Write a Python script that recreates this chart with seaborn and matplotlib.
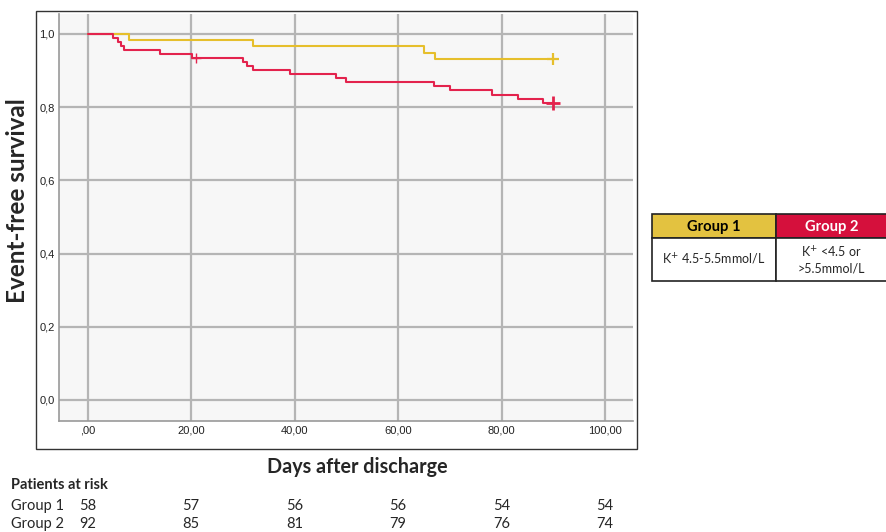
import matplotlib
matplotlib.use("Agg")
import pandas as pd
import matplotlib.pyplot as plt
import seaborn as sns
from matplotlib.patches import Rectangle
from matplotlib.transforms import Affine2D, blended_transform_factory

# Kaplan-Meier steps
g1_days = [0, 8.0, 32.0, 65.1, 67.1, 90.0]
g1_surv = [1.0, 0.983, 0.966, 0.948, 0.931, 0.931]
g2_days = [0, 5.0, 5.8, 6.4, 7.1, 14.0, 20.2, 30.1, 30.9, 32.0, 39.1,
           48.0, 49.9, 67.0, 70.1, 78.2, 83.1, 88.1, 90.0]
g2_surv = [1.0, 0.989, 0.978, 0.967, 0.957, 0.946, 0.935, 0.923, 0.912, 0.901, 0.890,
           0.879, 0.868, 0.857, 0.846, 0.834, 0.823, 0.812, 0.812]

# censored cases
g1_cens_days = [90.0]
g1_cens_surv = [0.931]
g2_cens_days = [20.9, 90.0]
g2_cens_surv = [0.935, 0.812]

groups = ["Group 1", "Group 2"]
group_desc = ["K$^{+}$ 4.5-5.5mmol/L", "K$^{+}$ <4.5 or\n>5.5mmol/L"]
colors = {"Group 1": "#e6bf2c", "Group 2": "#e3234d"}
header_colors = ["#e3c240", "#d5103c"]

x_ticks = [0, 20, 40, 60, 80, 100]
x_tick_labels = [",00", "20,00", "40,00", "60,00", "80,00", "100,00"]
y_ticks = [0.0, 0.2, 0.4, 0.6, 0.8, 1.0]
y_tick_labels = ["0,0", "0,2", "0,4", "0,6", "0,8", "1,0"]

at_risk_days = [0, 20, 40, 60, 80, 100]
at_risk_g1 = [58, 57, 56, 56, 54, 54]
at_risk_g2 = [92, 85, 81, 79, 76, 74]

df = pd.concat([
    pd.DataFrame({"day": g1_days, "surv": g1_surv, "group": "Group 1"}),
    pd.DataFrame({"day": g2_days, "surv": g2_surv, "group": "Group 2"}),
])

sns.set_style("white")
plt.rcParams["font.family"] = ["Liberation Sans", "DejaVu Sans"]
lato = ["Lato", "DejaVu Sans"]

W, H = 887, 532
fig = plt.figure(figsize=(W / 100, H / 100), dpi=100)
# pixel coordinates (origin top-left)
pix = Affine2D().scale(1 / W, -1 / H).translate(0, 1) + fig.transFigure

# outer frame
fig.patches.append(Rectangle((36, 11), 601, 438, transform=pix, fill=False,
                             edgecolor="#333333", lw=1.0))

ax = fig.add_axes([59 / W, 1 - 421 / H, (633 - 59) / W, (421 - 14) / H])
ax.set_facecolor("#f7f7f7")

sns.lineplot(data=df, x="day", y="surv", hue="group", palette=colors,
             drawstyle="steps-post", estimator=None, sort=False, lw=1.5,
             legend=False, ax=ax, zorder=3)

ax.plot(g1_cens_days, g1_cens_surv, "+", color=colors["Group 1"], ms=9, mew=1.6, zorder=4)
ax.plot(g2_cens_days[:1], g2_cens_surv[:1], "+", color=colors["Group 2"], ms=7, mew=1.0, zorder=4)
ax.plot(g2_cens_days[1:], g2_cens_surv[1:], "+", color=colors["Group 2"], ms=10, mew=2.0, zorder=4)

ax.set_xlim(-5.51, 105.4)
ax.set_ylim(-0.0574, 1.0546)
ax.set_xticks(x_ticks)
ax.set_xticklabels(x_tick_labels, fontsize=8, color="#222222")
ax.set_yticks(y_ticks)
ax.set_yticklabels(y_tick_labels, fontsize=8, color="#222222")
ax.tick_params(length=0, pad=3)
ax.grid(True, color="#b5b5b5", lw=1.6)
ax.set_axisbelow(True)
for s in ["top", "right"]:
    ax.spines[s].set_visible(False)
for s in ["left", "bottom"]:
    ax.spines[s].set_color("#999999")
    ax.spines[s].set_linewidth(1.2)
ax.set_xlabel("")
ax.set_ylabel("")

fig.text(18, 201, "Event-free survival", transform=pix, rotation=90,
         ha="center", va="center", fontsize=17.5, fontweight="bold", family=lato)
fig.text(357, 467, "Days after discharge", transform=pix,
         ha="center", va="center", fontsize=14.2, fontweight="bold", family=lato)

# patients at risk
bt = blended_transform_factory(ax.transData, pix)
fs = 10.5
fig.text(11, 485, "Patients at risk", transform=pix, ha="left", va="center",
         fontsize=fs, fontweight="bold", family=lato)
for y, name, vals in [(506, "Group 1", at_risk_g1), (524, "Group 2", at_risk_g2)]:
    fig.text(11, y, name, transform=pix, ha="left", va="center", fontsize=fs, family=lato)
    for d, v in zip(at_risk_days, vals):
        ax.text(d, y, str(v), transform=bt, ha="center", va="center", fontsize=fs,
                family=lato, clip_on=False)

# group table
x0, xm, x1 = 652, 776, 900
y0, ym, y1 = 214, 238, 281
for (xa, xb), c, name, desc, tc in zip([(x0, xm), (xm, x1)], header_colors, groups,
                                       group_desc, ["black", "white"]):
    fig.patches.append(Rectangle((xa, y0), xb - xa, ym - y0, transform=pix,
                                 facecolor=c, edgecolor="#222222", lw=1.2))
    fig.patches.append(Rectangle((xa, ym), xb - xa, y1 - ym, transform=pix,
                                 facecolor="white", edgecolor="#222222", lw=1.2))
    cx = (xa + min(xb, W)) / 2
    fig.text(cx, (y0 + ym) / 2 + 1, name, transform=pix, ha="center", va="center",
             fontsize=10.6, fontweight="bold", color=tc, family=lato)
    fig.text(cx, (ym + y1) / 2, desc, transform=pix, ha="center", va="center",
             fontsize=9, family=lato, linespacing=1.3)

fig.savefig("out.png", dpi=100)
